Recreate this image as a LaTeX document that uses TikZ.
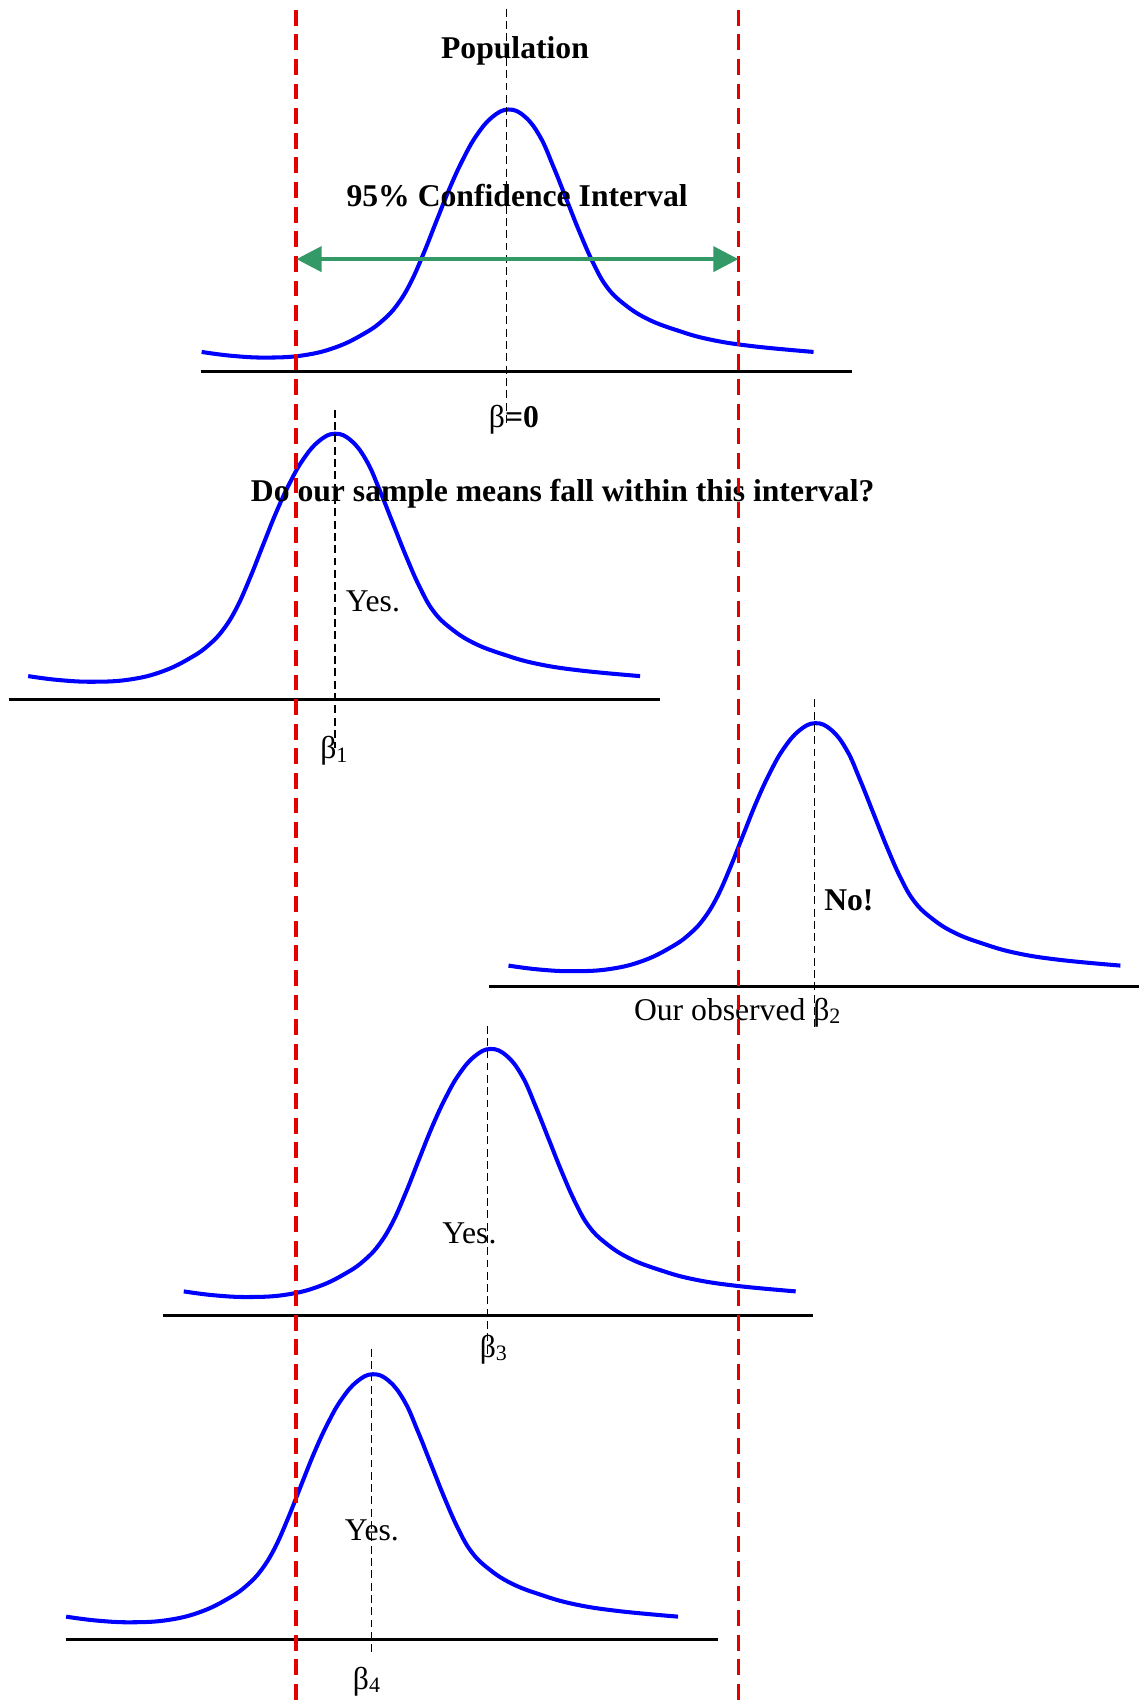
\documentclass[tikz,border=0pt]{standalone}
\usepackage{fontspec}
\setmainfont{Liberation Serif}
\usetikzlibrary{arrows.meta}
\definecolor{cigreen}{RGB}{51,153,102}
\newcommand\bsub[1]{β\raisebox{-2pt}{\fontsize{12.5}{12.5}\selectfont #1}}
\tikzset{
  bellline/.style={blue, line width=2.3pt, line join=round},
  axisline/.style={black, line width=1.7pt},
  centerline/.style={black, line width=0.6pt, dash pattern=on 4.5pt off 2.5pt},
  limitline/.style={red!90!black, line width=2pt, dash pattern=on 9pt off 5pt},
  ciarrow/.style={cigreen, line width=2.2pt, {Triangle[length=5mm,width=5mm]}-{Triangle[length=5mm,width=5mm]}},
  lbl/.style={inner sep=0pt, anchor=base, font=\fontsize{18}{22}\selectfont},
  bell/.pic={\draw[bellline] plot[smooth,tension=0.7] coordinates {(-283,223.6) (-255,227.2) (-223,228.8) (-189,226.7) (-158.4,219) (-132,206) (-116,194.5) (-103,180.6) (-90.7,160.6) (-78.4,133) (-66.1,102) (-53.8,71.5) (-41.5,45) (-29.2,23.5) (-15,7) (0,0) (15,6.5) (29.2,25.2) (41.5,52.9) (53.8,83.7) (66.1,114.4) (78.4,142.1) (90.7,163.6) (106.1,179) (127.6,192.9) (155.3,203.6) (186.1,212.2) (226.1,218.4) (281.4,223.6)};}
}
\begin{document}
\begin{tikzpicture}[x=0.021674cm, y=-0.021674cm]
\useasboundingbox (0,0) rectangle (1051,1568);

% bell curves
\pic at (469,101) {bell};
\pic at (309,400) {bell};
\pic at (752,667) {bell};
\pic at (452.5,967.5) {bell};
\pic at (344,1267.5) {bell};

% baselines
\coordinate (a0l) at (185,343); \coordinate (a0r) at (786,343);
\coordinate (a1l) at (8,645);   \coordinate (a1r) at (609,645);
\coordinate (a2l) at (451,910); \coordinate (a2r) at (1051,910);
\coordinate (a3l) at (150,1213); \coordinate (a3r) at (750,1213);
\coordinate (a4l) at (61,1512); \coordinate (a4r) at (662,1512);
\foreach \i in {0,...,4} { \draw[axisline] (a\i l) -- (a\i r); }

% labels
\node[lbl] (pop) at (475,54) {\textbf{Population}};
\node[lbl] (ci) at (477,190) {\textbf{95\% Confidence Interval}};
\node[lbl] (b0) at (474,394) {β\textbf{=0}};
\node[lbl] (q) at (519,463) {\textbf{Do our sample means fall within this interval?}};
\node[lbl] (yes1) at (344,564) {Yes.};
\node[lbl] (b1) at (308,700) {\bsub{1}};
\node[lbl] (no2) at (783,840) {\textbf{No!}};
\node[lbl] (b2) at (680,941) {Our observed \bsub{2}};
\node[lbl] (yes3) at (433,1147) {Yes.};
\node[lbl] (b3) at (455,1252) {\bsub{3}};
\node[lbl] (yes4) at (343,1421) {Yes.};
\node[lbl] (b4) at (338,1558) {\bsub{4}};

% center dashed lines
\coordinate (c0t) at (467,8);    \coordinate (c0b) at (467,390);
\coordinate (c1t) at (309,378);  \coordinate (c1b) at (309,690);
\coordinate (c2t) at (751,645);  \coordinate (c2b) at (751,947);
\coordinate (c3t) at (450,946);  \coordinate (c3b) at (450,1252);
\coordinate (c4t) at (343,1244); \coordinate (c4b) at (343,1525);
\foreach \i in {0,...,4} { \draw[centerline] (c\i t) -- (c\i b); }

% confidence limits
\coordinate (rLt) at (273,9);  \coordinate (rLb) at (273,1568);
\coordinate (rRt) at (681,9);  \coordinate (rRb) at (681,1568);
\draw[limitline] (rLt) -- (rLb);
\draw[limitline] (rRt) -- (rRb);

% CI arrow
\coordinate (ciL) at (273.5,239); \coordinate (ciR) at (681,239);
\draw[ciarrow] (ciL) -- (ciR);
\end{tikzpicture}
\end{document}
